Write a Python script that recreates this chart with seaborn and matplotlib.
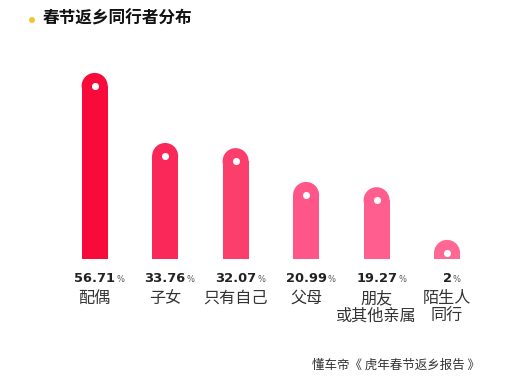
import matplotlib
matplotlib.use("Agg")
import matplotlib.pyplot as plt
import seaborn as sns
import pandas as pd
from matplotlib.patches import Ellipse

categories = ["配偶", "子女", "只有自己", "父母", "朋友\n或其他亲属", "陌生人\n同行"]
values = [56.71, 33.76, 32.07, 20.99, 19.27, 2]
value_labels = ["56.71", "33.76", "32.07", "20.99", "19.27", "2"]
colors = ["#F80A3A", "#FA2858", "#FB3E6C", "#FF5588", "#FF5E8E", "#FF6894"]
title = "春节返乡同行者分布"
source = "懂车帝《 虎年春节返乡报告 》"

sns.set_theme(style="white")
plt.rcParams['font.family'] = ['Noto Sans CJK SC', 'DejaVu Sans']

W, H = 515, 382
fig = plt.figure(figsize=(W / 100, H / 100), dpi=100)
ax_left, ax_right = 59.4, 482.3
ax_bottom, ax_top = 259, 60
ax = fig.add_axes([ax_left / W, (H - ax_bottom) / H, (ax_right - ax_left) / W, (ax_bottom - ax_top) / H])

df = pd.DataFrame({"cat": categories, "val": values})
sns.barplot(data=df, x="cat", y="val", hue="cat", hue_order=categories, order=categories,
            palette=colors, legend=False, width=0.369, ax=ax, saturation=1, linewidth=0)
ymax = 65.2
ax.set_ylim(0, ymax)
ax.set_xlim(-0.5, len(categories) - 0.5)
ax.axis("off")

ax_h_px = ax_bottom - ax_top
r_px = 13
r_data = r_px * ymax / ax_h_px

for p in ax.patches:
    x, w = p.get_x(), p.get_width()
    cx = x + w / 2
    h = p.get_height()
    fc = p.get_facecolor()
    ell = Ellipse((cx, h), w, 2 * r_data, facecolor=fc, edgecolor="none", clip_on=True)
    ax.add_patch(ell)
    ax.scatter([cx], [h], s=26, color="white", zorder=5, linewidths=0, clip_on=False)

px = 0.72
num_texts = []
for i, (lab, cat) in enumerate(zip(value_labels, categories)):
    t = ax.annotate(lab, xy=(i, 0), xycoords=("data", "axes fraction"),
                    xytext=(0, -19 * px), textcoords="offset points",
                    ha="center", va="center", fontsize=9.4, fontweight="bold",
                    color="#222222", family="DejaVu Sans")
    num_texts.append(t)
    for j, line in enumerate(cat.split("\n")):
        ax.annotate(line, xy=(i, 0), xycoords=("data", "axes fraction"),
                    xytext=(0, -(39.5 + 18 * j) * px), textcoords="offset points",
                    ha="center", va="center", fontsize=11.6, color="#333333",
                    fontweight="light")

fig.canvas.draw()
renderer = fig.canvas.get_renderer()
for t in num_texts:
    bb = t.get_window_extent(renderer)
    fig.text((bb.x1 + 1) / W, (bb.y0 + 0.5) / H, "%", fontsize=6, color="#555555",
             ha="left", va="bottom", family="DejaVu Sans")

fig.text(43 / W, (H - 19) / H, title, fontsize=12, fontweight="bold", color="#111111",
         ha="left", va="center")
fig.patches.append(Ellipse((32 / W, (H - 20) / H), 6 / W, 6 / H, transform=fig.transFigure,
                           facecolor="#F2C530", edgecolor="none"))
fig.text(312 / W, (H - 365) / H, source, fontsize=9, color="#333333", ha="left", va="center")

fig.savefig("out.png", dpi=100)
